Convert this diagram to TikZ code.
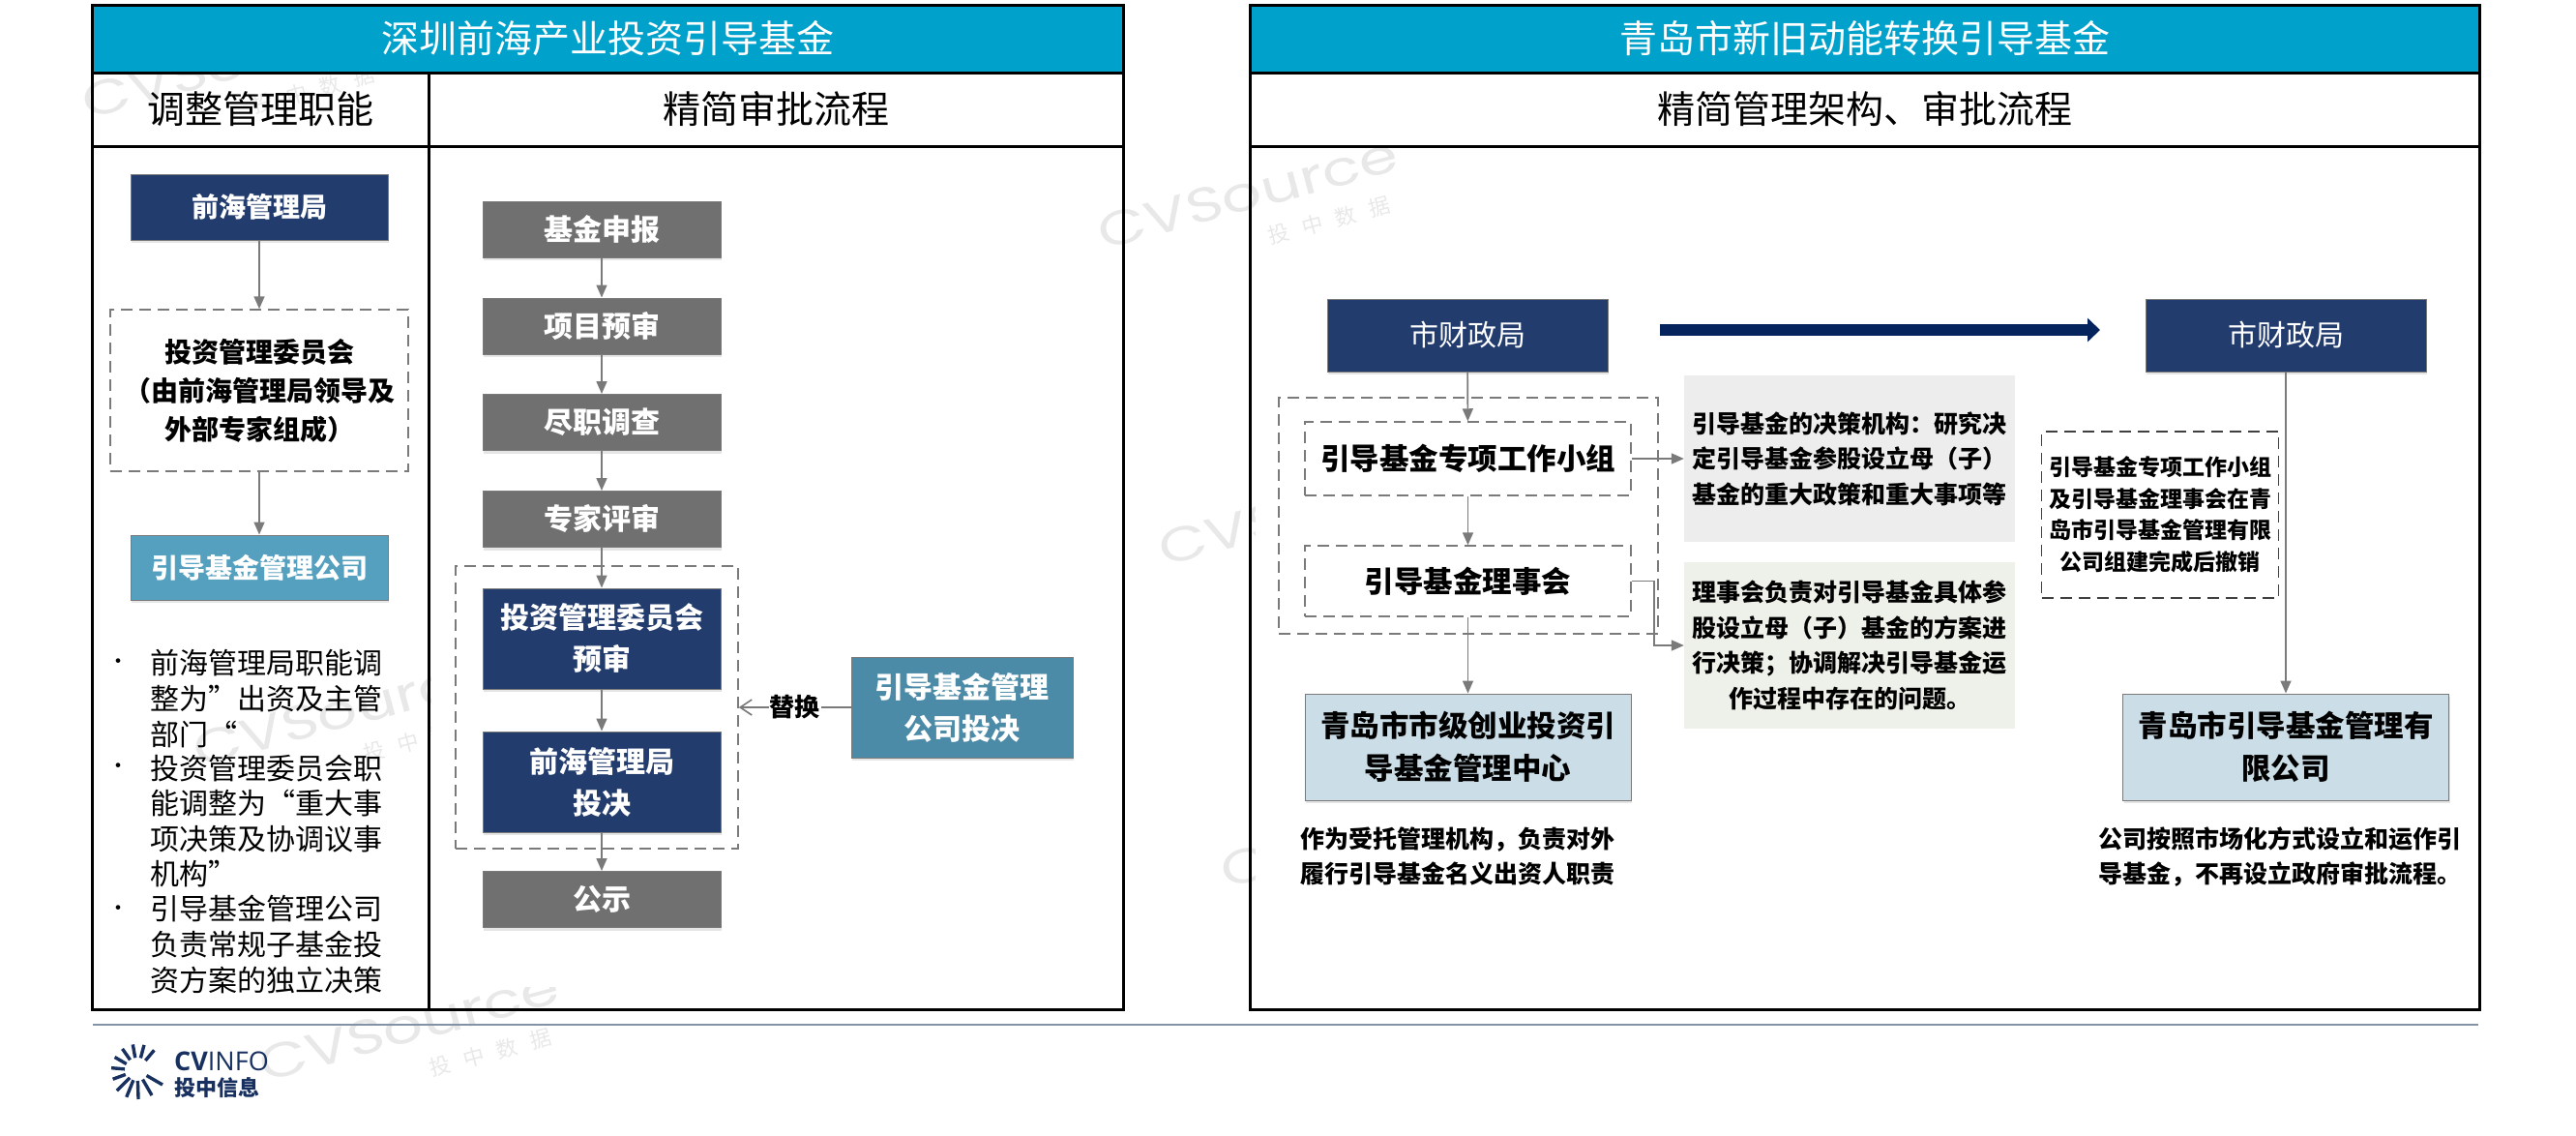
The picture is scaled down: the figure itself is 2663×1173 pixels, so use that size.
\documentclass[tikz,border=0pt]{standalone}
\usepackage{fontspec}
\setmainfont{Noto Sans CJK SC}
\newfontfamily\markfont[FakeStretch=1.3]{Poppins}
\newfontfamily\logofont{Open Sans}
\usepackage{tikz}
\usetikzlibrary{arrows.meta, shadows}

\definecolor{band}{HTML}{00A1CB}
\definecolor{navy}{HTML}{233C6E}
\definecolor{deepnavy}{HTML}{05235C}
\definecolor{graybox}{HTML}{707070}
\definecolor{tealA}{HTML}{55A0BF}
\definecolor{tealB}{HTML}{4B8BA7}
\definecolor{paleblue}{HTML}{CBDDE6}
\definecolor{notegray}{HTML}{EDEDED}
\definecolor{notegreen}{HTML}{EEF1E9}
\definecolor{wire}{HTML}{7A7A7A}
\definecolor{logoblue}{HTML}{17305F}
\definecolor{footline}{HTML}{8492A6}

\newcommand{\fs}[2]{\fontsize{#1}{#2}\selectfont}

\tikzset{
  cell/.style={draw=black, line width=3pt, inner sep=0pt},
  solidbox/.style={draw=wire, line width=1pt, inner sep=0pt, align=center, text=white,
    font=\bfseries\fs{30}{43}, drop shadow={shadow xshift=1pt, shadow yshift=-3pt, opacity=.2}},
  dashbox/.style={draw=wire, line width=1.5pt, dash pattern=on 12pt off 7pt, inner sep=0pt, align=center,
    font=\bfseries\fs{28}{40}},
  notebox/.style={inner sep=0pt, align=center, font=\bfseries\fs{25}{36.5}},
  plain/.style={inner sep=0pt, align=center, font=\bfseries\fs{25}{36.5}},
  bullettext/.style={inner sep=0pt, anchor=west, align=left, font=\fs{30}{36.6}},
  bulletdot/.style={inner sep=0pt, font=\fs{22}{26}},
  wm/.style={inner sep=0pt, text=black!9, rotate=15, font=\markfont\fs{50}{56}},
  wmsub/.style={inner sep=0pt, text=black!9, rotate=15, font=\fs{22}{26}},
  link/.style={draw=wire, line width=1.6pt, -{Triangle[length=13pt,width=11pt]}},
}

\begin{document}
\begin{tikzpicture}[x=1pt, y=-1pt]

\useasboundingbox (0,0) rectangle (2663,1173);

% watermarks
\foreach \wx/\wy [count=\wi] in {1290/200, 423/1060, 355/735, 1353/527, 1417/860, 240/65}{
  \node[wm] (W\wi) at (\wx,\wy) {CVSource};
  \node[wmsub] (WS\wi) at (\wx+84,\wy+28) {投\hspace{14pt}中\hspace{14pt}数\hspace{14pt}据};
}
\fill[white] (446,290) rectangle (1158,1020);
\fill[white] (1298,290) rectangle (2560,1040);

% panels
\node[cell, fill=band, text=white, font=\fs{39}{44}, minimum width=1066, minimum height=70] (T1) at (628,40) {深圳前海产业投资引导基金};
\node[cell, font=\fs{39}{44}, minimum width=348, minimum height=76] (S1) at (269,113) {调整管理职能};
\node[cell, font=\fs{39}{44}, minimum width=718, minimum height=76] (S2) at (802,113) {精简审批流程};
\node[cell, minimum width=348, minimum height=892] (P1) at (269,597) {};
\node[cell, minimum width=718, minimum height=892] (P2) at (802,597) {};

\node[cell, fill=band, text=white, font=\fs{39}{44}, minimum width=1271, minimum height=70] (T2) at (1927.5,40) {青岛市新旧动能转换引导基金};
\node[cell, font=\fs{39}{44}, minimum width=1271, minimum height=76] (S3) at (1927.5,113) {精简管理架构、审批流程};
\node[cell, minimum width=1271, minimum height=892] (P3) at (1927.5,597) {};

% nodes, left column
\node[solidbox, fill=navy, font=\bfseries\fs{28}{40}, minimum width=266, minimum height=68] (QH) at (268,214) {前海管理局};
\node[dashbox, minimum width=308, minimum height=167] (IC) at (268,403.5) {投资管理委员会\\（由前海管理局领导及\\外部专家组成）};
\node[solidbox, fill=tealA, text=white, font=\bfseries\fs{28}{40}, minimum width=266, minimum height=67] (GF) at (268,586.5) {引导基金管理公司};

\node[bulletdot] (D1) at (122,686) {•};
\node[bullettext] (L1) at (155,722) {前海管理局职能调\\整为”出资及主管\\部门“};
\node[bulletdot] (D2) at (122,794) {•};
\node[bullettext] (L2) at (155,848.5) {投资管理委员会职\\能调整为“重大事\\项决策及协调议事\\机构”};
\node[bulletdot] (D3) at (122,941) {•};
\node[bullettext] (L3) at (155,976) {引导基金管理公司\\负责常规子基金投\\资方案的独立决策};

% nodes, flow
\node[dashbox, minimum width=292, minimum height=292] (GR) at (617,731) {};
\node[solidbox, fill=graybox, minimum width=246, minimum height=58] (F1) at (622,237) {基金申报};
\node[solidbox, fill=graybox, minimum width=246, minimum height=58] (F2) at (622,337) {项目预审};
\node[solidbox, fill=graybox, minimum width=246, minimum height=58] (F3) at (622,436.5) {尽职调查};
\node[solidbox, fill=graybox, minimum width=246, minimum height=58] (F4) at (622,536.5) {专家评审};
\node[solidbox, fill=navy, minimum width=246, minimum height=104] (F5) at (622,660) {投资管理委员会\\预审};
\node[solidbox, fill=navy, minimum width=246, minimum height=104] (F6) at (622,808) {前海管理局\\投决};
\node[solidbox, fill=graybox, minimum width=246, minimum height=58] (F7) at (622,929.5) {公示};
\node[solidbox, fill=tealB, minimum width=229, minimum height=104] (RP) at (994.5,731) {引导基金管理\\公司投决};

% nodes, right panel
\node[solidbox, fill=navy, font=\fs{30}{40}, minimum width=290, minimum height=75] (MF) at (1517,346.5) {市财政局};
\node[solidbox, fill=navy, font=\fs{30}{40}, minimum width=290, minimum height=75] (MF2) at (2363,346.5) {市财政局};
\coordinate (BS) at (1716,341);
\coordinate (BE) at (2171,341);

\node[dashbox, minimum width=392, minimum height=244] (OG) at (1518,533) {};
\node[dashbox, font=\bfseries\fs{30.5}{40}, minimum width=337, minimum height=76] (WG) at (1517.5,474) {引导基金专项工作小组};
\node[dashbox, font=\bfseries\fs{30.5}{40}, minimum width=337, minimum height=73] (CL) at (1517.5,600.5) {引导基金理事会};
\node[solidbox, fill=paleblue, text=black, font=\bfseries\fs{30.5}{44}, minimum width=337, minimum height=110] (MC) at (1517.5,772) {青岛市市级创业投资引\\导基金管理中心};
\node[solidbox, fill=paleblue, text=black, font=\bfseries\fs{30.5}{44}, minimum width=337, minimum height=110] (QC) at (2363,772) {青岛市引导基金管理有\\限公司};

\node[notebox, fill=notegray, minimum width=342, minimum height=172] (N1) at (1912,474) {\raisebox{26pt}{\parbox{330pt}{\centering 引导基金的决策机构：研究决\\定引导基金参股设立母（子）\\基金的重大政策和重大事项等}}};
\node[notebox, fill=notegreen, minimum width=342, minimum height=172] (N2) at (1912,667) {理事会负责对引导基金具体参\\股设立母（子）基金的方案进\\行决策；协调解决引导基金运\\作过程中存在的问题。};
\node[dashbox, draw=black!75, font=\bfseries\fs{23}{32.5}, minimum width=245, minimum height=172] (NR) at (2233,532) {引导基金专项工作小组\\及引导基金理事会在青\\岛市引导基金管理有限\\公司组建完成后撤销};

\node[plain] (B1) at (1507,885) {作为受托管理机构，负责对外\\履行引导基金名义出资人职责};
\node[plain] (B2) at (2357,885.5) {公司按照市场化方式设立和运作引\\导基金，不再设立政府审批流程。};

% arrows
\draw [link] (QH) -- (IC);
\draw [link] (IC) -- (GF);
\draw [link] (F1) -- (F2);
\draw [link] (F2) -- (F3);
\draw [link] (F3) -- (F4);
\draw [link] (F4) -- (F5);
\draw [link] (F5) -- (F6);
\draw [link] (F6) -- (F7);
\draw [draw=wire, line width=1.6pt, -{Straight Barb[length=12pt,width=16pt]}] (RP) -- node[fill=white, inner sep=1pt, font=\bfseries\fs{26}{30}] (RL) {替换} (GR);

\draw [line width=12pt, draw=deepnavy, -{Triangle[length=13pt,width=24pt]}] (BS) -- (BE);

\draw [link] (MF) -- (WG);
\draw [link] (WG) -- (CL);
\draw [link] (CL) -- (MC);
\draw [link] (WG.east) -- (N1.west |- WG.east);
\coordinate (CB) at (1710,600.5);
\draw [link] (CL.east) -- (CB) |- (N2);
\draw [link] (MF2) -- (QC);

% footer
\coordinate (FA) at (96,1059);
\coordinate (FB) at (2562,1059);
\draw [line width=2pt, draw=footline] (FA) -- (FB);

\coordinate (SUN) at (142,1106);
\foreach \a in {310,285,260,235,210,185,160}
  \draw [line width=3.4pt, draw=logoblue] (SUN) ++(\a:13) -- ++(\a:14);
\foreach \a in {135,112,88,60,30}
  \draw [line width=3.4pt, draw=logoblue] (SUN) ++(\a:11) -- ++(\a:19);
\node[inner sep=0pt, anchor=west, text=logoblue, font=\logofont\fs{27}{30}] (CV) at (180,1097) {\textbf{CV}INFO};
\node[inner sep=0pt, anchor=west, text=logoblue, font=\bfseries\fs{22}{24}] (TZ) at (180,1124) {投中信息};

\end{tikzpicture}
\end{document}
